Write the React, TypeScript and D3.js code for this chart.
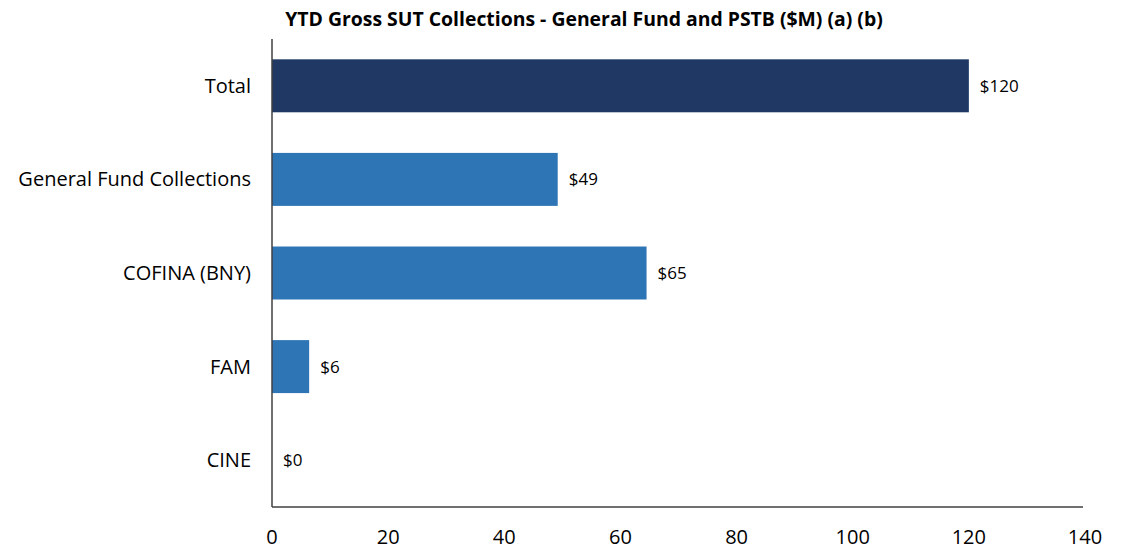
import React from "react";
import * as d3 from "d3";

const categories = ["Total", "General Fund Collections", "COFINA (BNY)", "FAM", "CINE"];
const values = [120.0, 49.2, 64.5, 6.4, 0.0];
const valueLabels = ["$120", "$49", "$65", "$6", "$0"];
const colors = ["#203864", "#2E75B6", "#2E75B6", "#2E75B6", "#2E75B6"];
const xTicks = [0, 20, 40, 60, 80, 100, 120, 140];
const title = "YTD Gross SUT Collections - General Fund and PSTB ($M) (a) (b)";

export default function App() {
  const W = 1121, H = 549;
  const left = 272, right = 1085, top = 39, bottom = 507;
  const font = "'Open Sans', sans-serif";
  const x = d3.scaleLinear().domain([0, 140]).range([left, right]);
  const y = d3.scaleBand().domain(categories).range([top, bottom]).paddingInner(0.434).paddingOuter(0.217);
  return (
    <svg width={W} height={H} style={{ position: "absolute", left: 0, top: 0 }}>
      <rect width={W} height={H} fill="#fff" />
      <text x={584} y={26} textAnchor="middle" fontFamily={font} fontWeight="bold" fontSize={19.4} fill="#000">{title}</text>
      {categories.map((c, i) => (
        <g key={c}>
          <rect x={x(0)} y={y(c)!} width={x(values[i]) - x(0)} height={y.bandwidth()} fill={colors[i]} />
          <text x={251} y={y(c)! + y.bandwidth() / 2} dy="0.35em" textAnchor="end" fontFamily={font} fontSize={20} fill="#000">{c}</text>
          <text x={x(values[i]) + 11} y={y(c)! + y.bandwidth() / 2} dy="0.35em" fontFamily={font} fontSize={17} fill="#000">{valueLabels[i]}</text>
        </g>
      ))}
      <line x1={left} x2={left} y1={top} y2={bottom} stroke="#404040" strokeWidth={1.5} />
      <line x1={left} x2={right - 2} y1={bottom} y2={bottom} stroke="#404040" strokeWidth={1.5} />
      {xTicks.map(t => (
        <text key={t} x={x(t)} y={544} textAnchor="middle" fontFamily={font} fontSize={20} fill="#000">{t}</text>
      ))}
    </svg>
  );
}
